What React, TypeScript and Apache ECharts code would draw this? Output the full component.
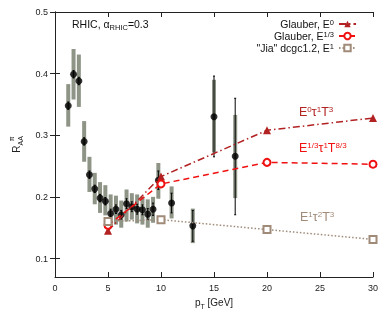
import React, { useEffect, useRef } from 'react';
import * as echarts from 'echarts';

// Measured data (RAA of pi0 vs pT)
const pT = [1.25, 1.75, 2.25, 2.75, 3.25, 3.75, 4.25, 4.75, 5.25, 5.75, 6.25, 6.75, 7.25, 7.75, 8.25, 8.75, 9.25, 9.75, 11, 13, 15, 17];
const raa = [0.348, 0.399, 0.388, 0.290, 0.236, 0.213, 0.198, 0.193, 0.173, 0.180, 0.171, 0.189, 0.184, 0.180, 0.179, 0.172, 0.180, 0.227, 0.190, 0.153, 0.330, 0.266];
const sysLow = [0.314, 0.358, 0.346, 0.257, 0.208, 0.188, 0.174, 0.170, 0.154, 0.155, 0.150, 0.160, 0.163, 0.157, 0.155, 0.150, 0.158, 0.197, 0.165, 0.125, 0.272, 0.198];
const sysHigh = [0.383, 0.440, 0.431, 0.323, 0.265, 0.239, 0.224, 0.219, 0.204, 0.202, 0.194, 0.212, 0.206, 0.204, 0.200, 0.196, 0.200, 0.255, 0.217, 0.181, 0.390, 0.333];
const statLow = [0.342, 0.393, 0.382, 0.284, 0.230, 0.207, 0.192, 0.187, 0.166, 0.173, 0.164, 0.181, 0.176, 0.172, 0.171, 0.163, 0.170, 0.212, 0.174, 0.128, 0.265, 0.171];
const statHigh = [0.354, 0.405, 0.394, 0.296, 0.242, 0.219, 0.204, 0.199, 0.180, 0.187, 0.178, 0.197, 0.192, 0.188, 0.187, 0.181, 0.190, 0.242, 0.206, 0.178, 0.396, 0.360];

// Model curves
const modelPT = [5, 10, 20, 30];
const glauberE0 = [0.145, 0.233, 0.308, 0.328];
const glauberE13 = [0.154, 0.221, 0.256, 0.253];
const jiaE1 = [0.160, 0.163, 0.147, 0.131];

const xTicks = [0, 5, 10, 15, 20, 25, 30];
const yTicks = [0.1, 0.2, 0.3, 0.4, 0.5];

const C_E0 = '#b22222';
const C_E13 = '#f01010';
const C_JIA = '#a08a78';
const C_SYS = '#8e9486';
const FONT = 'Liberation Sans, Arial, sans-serif';

export default function App() {
  const ref = useRef<HTMLDivElement>(null);
  useEffect(() => {
    const chart = echarts.init(ref.current!, null, { renderer: 'svg' });
    const errData = pT.map((x, i) => [x, sysLow[i], sysHigh[i], statLow[i], statHigh[i]]);
    const pts = pT.map((x, i) => [x, raa[i]]);
    const mk = (arr: number[]) => modelPT.map((x, i) => [x, arr[i]]);
    const supRich = (color: string, size: number) => ({
      sup: { fontSize: size, verticalAlign: 'top', lineHeight: size + 1, color, fontFamily: FONT },
    });
    const axisCommon = {
      axisLine: { show: true, lineStyle: { color: '#222', width: 1 } },
      splitLine: { show: false },
    };
    const option: any = {
      animation: false,
      grid: { left: 53.5, right: 15, top: 12, bottom: 41 },
      textStyle: { fontFamily: FONT },
      legend: {
        orient: 'vertical',
        right: 26,
        top: 13,
        align: 'right',
        itemWidth: 17,
        itemHeight: 8,
        itemGap: 0,
        data: ['Glauber, E{sup|0}', 'Glauber, E{sup|1/3}', '"Jia" dcgc1.2, E{sup|1}'],
        textStyle: {
          fontSize: 10.5,
          lineHeight: 12,
          color: '#111',
          fontFamily: FONT,
          rich: {
            sup: { fontSize: 7.5, verticalAlign: 'top', lineHeight: 7, color: '#111', fontFamily: FONT },
          },
        },
      },
      xAxis: [
        {
          type: 'value', min: 0, max: 30, interval: 5,
          ...axisCommon,
          axisTick: { show: true, inside: true, length: 5, lineStyle: { color: '#222' } },
          axisLabel: { show: true, fontSize: 9, color: '#222', margin: 6, fontFamily: FONT, customValues: xTicks },
          name: 'p{sub|T} [GeV]',
          nameLocation: 'middle',
          nameGap: 18,
          nameTextStyle: {
            fontSize: 10, color: '#222', fontFamily: FONT,
            rich: { sub: { fontSize: 7, verticalAlign: 'bottom', lineHeight: 15, fontFamily: FONT, color: '#222' } },
          },
        },
        {
          type: 'value', min: 0, max: 30, interval: 5, position: 'top',
          ...axisCommon,
          axisTick: { show: true, inside: true, length: 5, lineStyle: { color: '#222' } },
          axisLabel: { show: false },
        },
      ],
      yAxis: [
        {
          type: 'value', min: 0.07, max: 0.5,
          ...axisCommon,
          axisTick: { show: true, inside: true, length: 5, customValues: yTicks, lineStyle: { color: '#222' } },
          axisLabel: {
            show: true, fontSize: 9, color: '#222', margin: 7, fontFamily: FONT,
            customValues: yTicks, formatter: (v: number) => v.toFixed(1),
          },
          name: 'R{sub|AA}{sup|π}',
          nameLocation: 'middle',
          nameGap: 31,
          nameRotate: 90,
          nameTextStyle: {
            fontSize: 10, color: '#222', fontFamily: FONT,
            rich: {
              sub: { fontSize: 7, verticalAlign: 'bottom', lineHeight: 16, fontFamily: FONT, color: '#222' },
              sup: { fontSize: 7, verticalAlign: 'top', lineHeight: 16, fontFamily: FONT, color: '#222', padding: [0, 0, 0, -5] },
            },
          },
        },
        {
          type: 'value', min: 0.07, max: 0.5, position: 'right',
          ...axisCommon,
          axisTick: { show: true, inside: true, length: 5, customValues: yTicks, lineStyle: { color: '#222' } },
          axisLabel: { show: false },
        },
      ],
      series: [
        {
          type: 'custom',
          name: 'errors',
          z: 1,
          data: errData,
          renderItem: (params: any, api: any) => {
            const x = api.value(0);
            const sLo = api.coord([x, api.value(1)]);
            const sHi = api.coord([x, api.value(2)]);
            const tLo = api.coord([x, api.value(3)]);
            const tHi = api.coord([x, api.value(4)]);
            return {
              type: 'group',
              children: [
                { type: 'rect', shape: { x: sLo[0] - 2, y: sHi[1], width: 4, height: sLo[1] - sHi[1] }, style: { fill: C_SYS } },
                { type: 'line', shape: { x1: tLo[0], y1: tLo[1], x2: tHi[0], y2: tHi[1] }, style: { stroke: '#000', lineWidth: 1 } },
                { type: 'line', shape: { x1: tLo[0] - 1, y1: tLo[1], x2: tLo[0] + 1, y2: tLo[1] }, style: { stroke: '#000', lineWidth: 1 } },
                { type: 'line', shape: { x1: tHi[0] - 1, y1: tHi[1], x2: tHi[0] + 1, y2: tHi[1] }, style: { stroke: '#000', lineWidth: 1 } },
              ],
            };
          },
        },
        {
          type: 'scatter',
          name: 'data',
          z: 2,
          data: pts,
          symbol: 'circle',
          symbolSize: 7,
          itemStyle: { color: '#000' },
        },
        {
          type: 'line',
          name: 'Glauber, E{sup|0}',
          z: 3,
          data: mk(glauberE0),
          symbol: 'triangle',
          symbolSize: 8,
          itemStyle: { color: C_E0 },
          lineStyle: { color: C_E0, width: 1.5, type: [7, 3, 1.5, 3] },
        },
        {
          type: 'line',
          name: 'Glauber, E{sup|1/3}',
          z: 3,
          data: mk(glauberE13),
          symbol: 'emptyCircle',
          symbolSize: 7,
          itemStyle: { color: C_E13, borderWidth: 1.3 },
          lineStyle: { color: C_E13, width: 1.5, type: [6, 4] },
        },
        {
          type: 'line',
          name: '"Jia" dcgc1.2, E{sup|1}',
          z: 3,
          data: mk(jiaE1),
          symbol: 'emptyRect',
          symbolSize: 7,
          itemStyle: { color: C_JIA, borderWidth: 1.3 },
          lineStyle: { color: C_JIA, width: 1.5, type: [1.5, 2] },
        },
      ],
      graphic: [
        {
          type: 'text', x: 72, y: 24,
          style: {
            text: 'RHIC, α{sub|RHIC}=0.3', fontSize: 10.5, fill: '#111', fontFamily: FONT, verticalAlign: 'middle',
            rich: { sub: { fontSize: 7.5, verticalAlign: 'bottom', lineHeight: 15, fontFamily: FONT, fill: '#111' } },
          },
        },
        {
          type: 'text', x: 299, y: 112,
          style: {
            text: 'E{sup|0}τ{sup|1}T{sup|3}', fontSize: 12.5, fill: C_E0, fontFamily: FONT, verticalAlign: 'middle',
            rich: { sup: { fontSize: 8, verticalAlign: 'top', lineHeight: 8, fill: C_E0, fontFamily: FONT } },
          },
        },
        {
          type: 'text', x: 299, y: 148,
          style: {
            text: 'E{sup|1/3}τ{sup|1}T{sup|8/3}', fontSize: 12.5, fill: C_E13, fontFamily: FONT, verticalAlign: 'middle',
            rich: { sup: { fontSize: 8, verticalAlign: 'top', lineHeight: 8, fill: C_E13, fontFamily: FONT } },
          },
        },
        {
          type: 'text', x: 300, y: 217,
          style: {
            text: 'E{sup|1}τ{sup|2}T{sup|3}', fontSize: 12.5, fill: C_JIA, fontFamily: FONT, verticalAlign: 'middle',
            rich: { sup: { fontSize: 8, verticalAlign: 'top', lineHeight: 8, fill: C_JIA, fontFamily: FONT } },
          },
        },
      ],
    };
    chart.setOption(option);
    return () => chart.dispose();
  }, []);
  return <div ref={ref} style={{ position: 'fixed', left: 0, top: 0, width: 388, height: 318 }} />;
}
